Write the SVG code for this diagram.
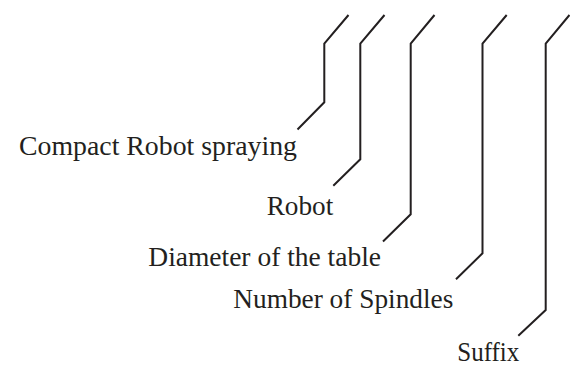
<svg xmlns="http://www.w3.org/2000/svg" width="570" height="367" viewBox="0 0 570 367">
<style>
.lbl{font-family:"Liberation Serif","Times New Roman",serif;font-size:27.5px;fill:#231f20}
.ln{fill:none;stroke:#231f20;stroke-width:2;stroke-linejoin:miter}
</style>
<rect width="570" height="367" fill="#ffffff"/>
<g id="connectors">
<polyline class="ln" points="348.5,15 324.3,43.7 324.3,102.3 297.5,129.5"/>
<polyline class="ln" points="384.5,15 360.3,43.7 360.3,159.3 333.3,185.7"/>
<polyline class="ln" points="434.5,15 410.7,43.7 410.7,214.3 383,241.5"/>
<polyline class="ln" points="506.7,15 482.5,43.7 482.5,253.3 456,279.3"/>
<polyline class="ln" points="569.5,15 545.7,43.7 545.7,310 518.3,335.7"/>
</g>
<g id="node-compact"><text class="lbl" x="19" y="155" textLength="278" lengthAdjust="spacingAndGlyphs">Compact Robot spraying</text></g>
<g id="node-robot"><text class="lbl" x="266.7" y="215" textLength="66.6" lengthAdjust="spacingAndGlyphs">Robot</text></g>
<g id="node-diameter"><text class="lbl" x="148.3" y="266" textLength="232.7" lengthAdjust="spacingAndGlyphs">Diameter of the table</text></g>
<g id="node-spindles"><text class="lbl" x="233.3" y="308.3" textLength="220" lengthAdjust="spacingAndGlyphs">Number of Spindles</text></g>
<g id="node-suffix"><text class="lbl" x="457.3" y="361" textLength="62" lengthAdjust="spacingAndGlyphs">Suffix</text></g>
</svg>
